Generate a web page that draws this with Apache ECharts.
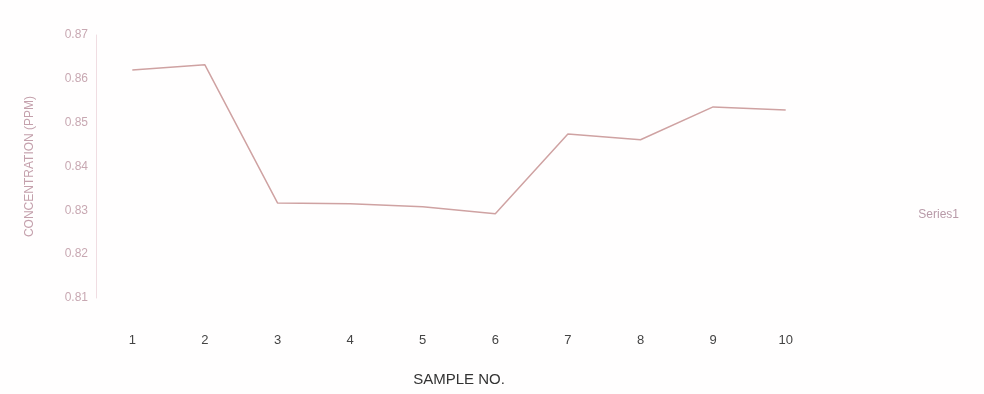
<!DOCTYPE html>
<html><head><meta charset="utf-8">
<script src="https://cdn.jsdelivr.net/npm/echarts@6/dist/echarts.min.js"></script>
<style>html,body{margin:0;padding:0;background:#fff}#c{width:984px;height:394px}</style>
</head><body><div id="c"></div>
<script>
const categories = ['1','2','3','4','5','6','7','8','9','10'];
const series1 = [0.862, 0.8632, 0.8317, 0.8315, 0.8308, 0.8292, 0.8474, 0.8461, 0.8536, 0.8529];
const yTicks = [0.81, 0.82, 0.83, 0.84, 0.85, 0.86, 0.87];

const chart = echarts.init(document.getElementById('c'));
chart.setOption({
  backgroundColor: '#fffefe',
  animation: false,
  grid: { left: 96, right: 162, top: 35, bottom: 96 },
  legend: {
    data: ['Series1'], right: 20, top: 203, icon: 'none', itemWidth: 0,
    textStyle: { color: '#b89aa8', fontSize: 12, fontFamily: 'Liberation Sans' }
  },
  xAxis: {
    type: 'category', data: categories, boundaryGap: true,
    name: 'SAMPLE NO.', nameLocation: 'middle', nameGap: 74,
    nameTextStyle: { color: '#333', fontSize: 15, fontFamily: 'Liberation Sans' },
    axisLine: { show: false }, axisTick: { show: false },
    axisLabel: { color: '#444', fontSize: 13, margin: 36, fontFamily: 'Liberation Sans' }
  },
  yAxis: {
    type: 'value', min: yTicks[0], max: yTicks[yTicks.length - 1], interval: 0.01,
    name: 'CONCENTRATION (PPM)', nameLocation: 'middle', nameGap: 60, nameRotate: 90,
    nameTextStyle: { color: '#c4a0ac', fontSize: 12, fontFamily: 'Liberation Sans' },
    axisLine: { show: true, lineStyle: { color: '#f0dde2', width: 1 } },
    axisTick: { show: false },
    splitLine: { show: false },
    axisLabel: { color: '#c8a8b2', fontSize: 12, formatter: v => v.toFixed(2), fontFamily: 'Liberation Sans' }
  },
  series: [{
    name: 'Series1', type: 'line', data: series1,
    showSymbol: false, symbol: 'none',
    lineStyle: { color: '#cfa2a2', width: 1.5 },
    itemStyle: { color: '#cfa2a2' }
  }]
});
</script></body></html>
